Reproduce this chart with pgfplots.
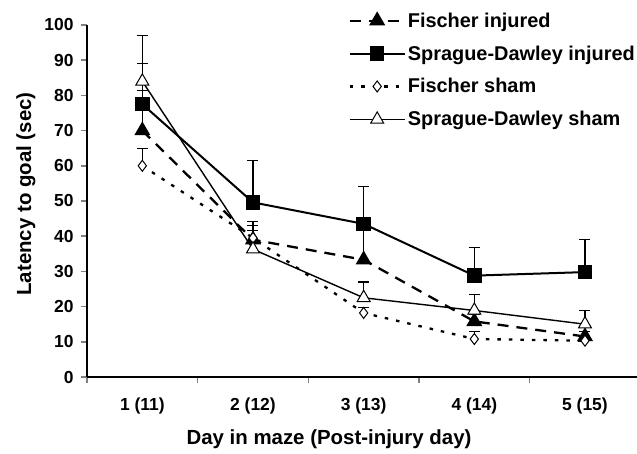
\documentclass[border=0pt]{standalone}
\usepackage{pgfplots}
\pgfplotsset{compat=1.18}
\usepackage{fontspec}
\setmainfont{Liberation Sans}
\begin{document}
\begin{tikzpicture}
\path[use as bounding box] (0,0) rectangle (637bp,454bp);
\begin{axis}[
  at={(87bp,77bp)}, anchor=south west,
  scale only axis,
  width=550bp, height=352bp,
  xmin=0.5, xmax=5.47, ymin=0, ymax=100,
  axis x line*=bottom, axis y line*=left,
  axis line style={line width=1.6bp},
  xtick={1,2,3,4,5},
  xticklabels={1 (11),2 (12),3 (13),4 (14),5 (15)},
  minor xtick={0.5,1.5,2.5,3.5,4.5},
  major x tick style={draw=none},
  minor x tick style={line width=1.6bp},
  ytick={0,10,...,100},
  y tick style={line width=1.6bp},
  tick align=outside,
  major tick length=6bp, minor tick length=6bp,
  /pgf/number format/assume math mode=true,
  ticklabel style={font=\fontsize{17.5}{20}\selectfont\bfseries},
  xticklabel style={yshift=-11bp},
  yticklabel style={xshift=-4bp},
  label style={font=\fontsize{20.5}{24}\selectfont\bfseries},
  xlabel={Day in maze (Post-injury day)},
  ylabel={Latency to goal (sec)},
  xlabel style={at={(axis description cs:0.44,-0.176)}, anchor=center},
  ylabel style={at={(axis description cs:-0.111,0.52)}, anchor=center},
  legend style={draw=none, fill=none, at={(axis description cs:1,1)}, anchor=north east,
    yshift=14.5bp,
    font=\fontsize{20}{24}\selectfont\bfseries, inner sep=0pt, row sep=13bp,
    /tikz/every even column/.append style={column sep=3bp}},
  legend cell align=left,
  legend image code/.code={\draw[mark repeat=2,mark phase=2] plot coordinates {(0bp,0bp)(27.5bp,0bp)(55bp,0bp)};},
  error bars/error bar style={line width=1.1bp, solid},
  error bars/error mark options={rotate=90, mark size=5.5bp, line width=1.1bp},
  clip=false,
]
% Fischer injured
\addplot[black, line width=2.3bp, dash pattern=on 11bp off 8bp,
  mark=triangle*, mark size=7bp, mark options={solid, fill=black},
  error bars/.cd, y dir=plus, y explicit]
  coordinates {(1,70) +- (0,11.5) (2,39) +- (0,4) (3,33.3) +- (0,10) (4,15.8) +- (0,2) (5,11.5) +- (0,1.5)};
\addlegendentry{Fischer injured}
% Sprague-Dawley injured
\addplot[black, line width=2bp, solid,
  mark=square*, mark size=6.3bp, mark options={solid, fill=black},
  error bars/.cd, y dir=plus, y explicit]
  coordinates {(1,77.5) +- (0,11.5) (2,49.6) +- (0,12) (3,43.5) +- (0,10.5) (4,28.8) +- (0,8) (5,29.8) +- (0,9.2)};
\addlegendentry{Sprague-Dawley injured}
% Fischer sham
\addplot[black, line width=2.3bp, dash pattern=on 3.5bp off 8bp,
  mark=diamond*, mark size=5.5bp, mark options={solid, fill=white, line width=1bp},
  error bars/.cd, y dir=plus, y explicit]
  coordinates {(1,60) +- (0,5) (2,39.5) +- (0,2) (3,18.2) +- (0,1.5) (4,10.8) +- (0,2) (5,10.3) +- (0,1)};
\addlegendentry{Fischer sham}
% Sprague-Dawley sham
\addplot[black, line width=1.4bp, solid,
  mark=triangle*, mark size=7.5bp, mark options={solid, fill=white, line width=1bp},
  error bars/.cd, y dir=plus, y explicit]
  coordinates {(1,84) +- (0,13) (2,36.3) +- (0,8) (3,22.5) +- (0,4.5) (4,18.9) +- (0,4.5) (5,15) +- (0,4)};
\addlegendentry{Sprague-Dawley sham}
\end{axis}
\end{tikzpicture}
\end{document}
